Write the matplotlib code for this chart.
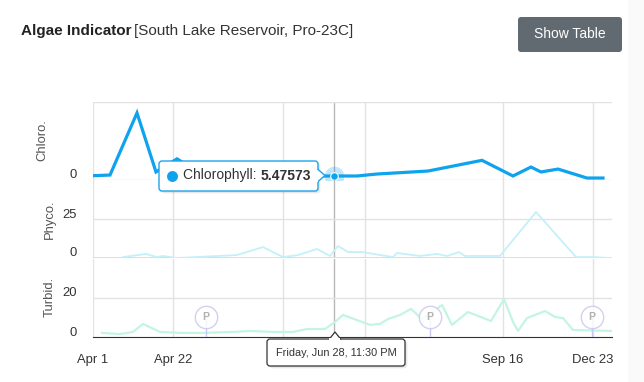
import matplotlib
matplotlib.use("Agg")
import matplotlib.pyplot as plt
from matplotlib.patches import FancyBboxPatch, Polygon, Rectangle
from matplotlib.transforms import ScaledTranslation

plt.rcParams['font.family'] = ['Liberation Sans', 'DejaVu Sans']

# ordinal x positions (highcharts stock style axis) and values
chl_x = [0, 17, 44, 63, 84, 110, 150, 190, 222, 241, 264, 284, 335, 389, 420, 438, 448, 465, 494, 510]
chl_y = [5.9, 6.8, 92, 11, 29, 7, 6, 5.8, 5.5, 5.47573, 5.5, 8.2, 12.3, 27, 5.5, 17.8, 11, 15, 2.7, 2.7]

phy_x = [30, 53, 64, 70, 84, 144, 170, 190, 205, 224, 237, 245, 255, 269, 300, 304, 327, 344, 354,
         366, 372, 407, 443, 483, 500, 517]
phy_y = [0.6, 2.6, 0.6, 1.3, 0, 1.9, 7, 0.6, 1.9, 5.8, 1.3, 7.7, 3.8, 3.8, 0.6, 3.2, 1.3, 2.6, 1.3,
         3.8, 1.3, 1.3, 29.5, 0.6, 0.6, 0]

tur_x = [9, 27, 40, 50, 67, 87, 110, 140, 157, 180, 200, 214, 232, 242, 250, 277, 287, 295, 307, 318,
         329, 349, 359, 375, 398, 411, 420, 425, 434, 452, 462, 470, 480, 519]
tur_y = [2.1, 1.5, 2.6, 6.7, 2.6, 2.1, 2.1, 2.6, 3.1, 2.6, 2.6, 4.1, 4.1, 7.7, 11.3, 6.2, 6.7, 9.2, 11.3,
         14.4, 9.2, 16.4, 6.2, 12.8, 8.2, 19.5, 7.7, 3.1, 9.7, 13.3, 10.3, 9.7, 3.6, 3.1]

flag_x = [113, 337, 499]
grid_x = [0, 80, 190, 272, 410, 500]
tick_labels = ['Apr 1', 'Apr 22', '', '', 'Sep 16', 'Dec 23']
hover_x = 241
hover_val = 5.47573

W, H = 644, 382
fig = plt.figure(figsize=(W / 100, H / 100), dpi=100)

def box(x0, y0, x1, y1):
    return [x0 / W, 1 - y1 / H, (x1 - x0) / W, (y1 - y0) / H]

L, R = 93, 612
ax1 = fig.add_axes(box(L, 102, R, 180))
ax2 = fig.add_axes(box(L, 180, R, 258))
ax3 = fig.add_axes(box(L, 259, R, 337))

GRID = '#e2e2e2'
for ax in (ax1, ax2, ax3):
    ax.set_xlim(0, 519)
    for s in ax.spines.values():
        s.set_visible(False)
    for gx in grid_x:
        ax.axvline(gx, color=GRID, lw=1, zorder=0)
    ax.axvline(hover_x, color='#b8b8b8', lw=1, zorder=0)
    ax.tick_params(axis='y', length=0, pad=11.5, labelsize=9.4, labelcolor='#333333')
    ax.patch.set_alpha(0)

ax1.set_ylim(0, 107)
ax1.set_yticks([0])
ax1.axhline(107, color=GRID, lw=1, zorder=0)
ax1.axhline(0, color=GRID, lw=1, zorder=0)
ax1.plot(chl_x, chl_y, color='#0fa3ee', lw=2.3, zorder=3, solid_joinstyle='miter')
ax1.scatter([hover_x], [hover_val], s=200, color='#0fa3ee', alpha=0.25, zorder=4, lw=0)
ax1.scatter([hover_x], [hover_val], s=30, color='#0fa3ee', edgecolor='white', lw=0.8, zorder=5)

ax2.set_ylim(0, 50)
ax2.set_yticks([0, 25])
ax2.axhline(25, color=GRID, lw=1, zorder=0)
ax2.axhline(0, color='#d9d9d9', lw=2, zorder=0)
ax2.plot(phy_x, phy_y, color='#c4f0fa', lw=1.3, zorder=3)

ax3.set_ylim(0, 40)
ax3.set_yticks([0, 20])
ax3.axhline(20, color=GRID, lw=1, zorder=0)
ax3.spines['bottom'].set_visible(True)
ax3.spines['bottom'].set_color('#333333')
ax3.plot(tur_x, tur_y, color='#c3f5e2', lw=1.6, zorder=3)
ax3.vlines(flag_x, 0, 10.3, color='#c9c9ef', lw=1, zorder=4)
ax3.scatter(flag_x, [10.3] * len(flag_x), s=260, facecolor='white', edgecolor='#c9c9ef',
            lw=1, alpha=0.85, zorder=5)
for fx in flag_x:
    ax3.text(fx, 10.3, 'P', ha='center', va='center', fontsize=7.5, fontweight='bold',
             color='#b0b0b0', zorder=6)

for ax in (ax1, ax2):
    ax.set_xticks(grid_x)
    ax.tick_params(axis='x', length=0, labelbottom=False)
ax3.set_xticks(grid_x)
ax3.set_xticklabels(tick_labels)
ax3.tick_params(axis='x', length=0, pad=12, labelsize=9.4, labelcolor='#333333')

# y tick labels sit a bit above their grid lines
up = ScaledTranslation(0, 6 / 100, fig.dpi_scale_trans)
for ax in (ax1, ax2, ax3):
    for lab in ax.get_yticklabels():
        lab.set_transform(lab.get_transform() + up)

for txt, x, y in [('Chloro.', 42, 140), ('Phyco.', 50, 219), ('Turbid.', 50, 297)]:
    fig.text(x / W, 1 - y / H, txt, rotation=90, ha='center', va='center',
             fontsize=9.4, color='#555555')

# overlay in pixel coordinates for header, button and tooltips
ov = fig.add_axes([0, 0, 1, 1])
ov.set_xlim(0, W)
ov.set_ylim(H, 0)
ov.axis('off')
ov.patch.set_alpha(0)

ov.add_patch(Rectangle((628, 0), 16, H, color='#fafafa', lw=0))

t1 = ov.text(21, 31, 'Algae Indicator', fontweight='bold', fontsize=11,
             color='#222222', va='center')
fig.canvas.draw()
bb = t1.get_window_extent()
ov.text(bb.x1 + 3, (1 - 31 / H) * H, '[South Lake Reservoir, Pro-23C]', fontsize=11,
        color='#333333', va='center', transform=None)

ov.add_patch(FancyBboxPatch((518, 17), 104, 35, boxstyle='round,pad=0,rounding_size=3',
                            facecolor='#626a71', edgecolor='none'))
ov.text(570, 34.5, 'Show Table', fontsize=10, color='white', ha='center', va='center')

# chlorophyll tooltip
for d in (2.5, 1.5):
    ov.add_patch(FancyBboxPatch((159 + d, 161 + d), 159, 30, boxstyle='round,pad=0,rounding_size=3',
                                facecolor='black', alpha=0.06, edgecolor='none'))
ov.add_patch(FancyBboxPatch((159, 161), 159, 30, boxstyle='round,pad=0,rounding_size=3',
                            facecolor='white', edgecolor='#1ea4ec', lw=1))
ov.add_patch(Polygon([(317.5, 169), (325, 175.5), (317.5, 182)], closed=False,
                     facecolor='white', edgecolor='#1ea4ec', lw=1))
ov.add_patch(Rectangle((316, 169.5), 2.2, 12, facecolor='white', edgecolor='none'))
ov.scatter([172.5], [175.5], s=62, color='#0fa3ee', lw=0, zorder=5)
t2 = ov.text(183, 175.5, 'Chlorophyll: ', fontsize=10, color='#333333', va='center')
fig.canvas.draw()
bb2 = t2.get_window_extent()
ov.text(bb2.x1, (1 - 175.5 / H) * H, '5.47573', fontsize=10, fontweight='bold',
        color='#333333', va='center', transform=None)

# date tooltip
for d in (2.5, 1.5):
    ov.add_patch(FancyBboxPatch((267 + d, 339 + d), 138, 27, boxstyle='round,pad=0,rounding_size=3',
                                facecolor='black', alpha=0.06, edgecolor='none'))
ov.add_patch(FancyBboxPatch((267, 339), 138, 27, boxstyle='round,pad=0,rounding_size=3',
                            facecolor='white', edgecolor='#333333', lw=0.9))
ov.add_patch(Polygon([(329, 339.5), (335, 332), (341, 339.5)], closed=False,
                     facecolor='white', edgecolor='#333333', lw=0.9))
ov.add_patch(Rectangle((329.5, 338.4), 11, 2, facecolor='white', edgecolor='none'))
ov.text(336, 352.5, 'Friday, Jun 28, 11:30 PM', fontsize=7.9, color='#333333',
        ha='center', va='center')

fig.savefig('out.png', dpi=100)
